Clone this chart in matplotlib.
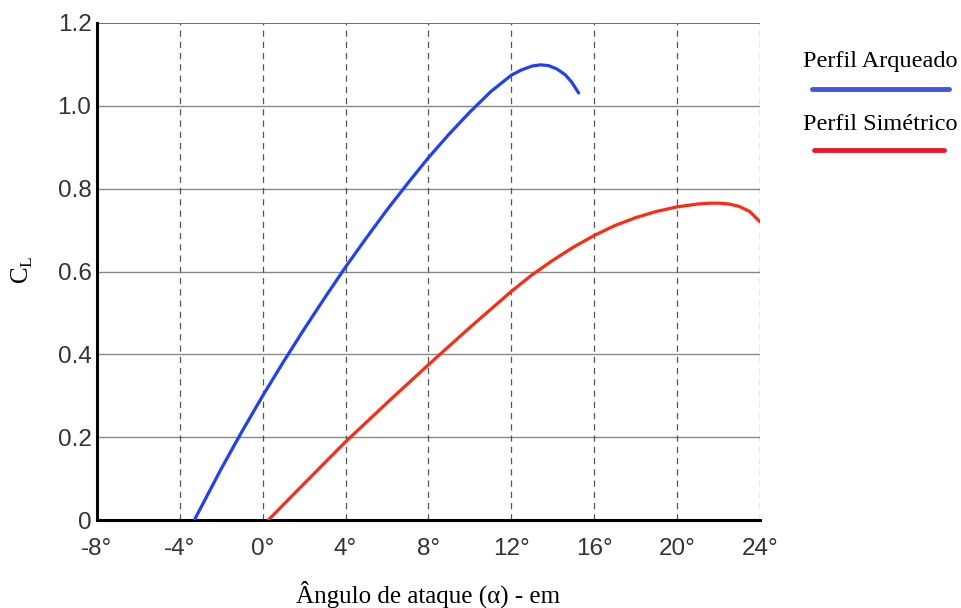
import matplotlib
matplotlib.use("Agg")
import matplotlib.pyplot as plt

# Data
alpha_arq = [-3.3, -2, -1, 0, 1, 2, 3, 4, 5, 6, 7, 8, 9, 10, 11, 12, 12.5, 13,
             13.4, 13.8, 14.2, 14.6, 14.9, 15.25]
cl_arq = [0.0, 0.124, 0.214, 0.300, 0.382, 0.461, 0.537, 0.611, 0.681, 0.749, 0.813, 0.875,
          0.932, 0.985, 1.034, 1.074, 1.087, 1.096, 1.099, 1.097, 1.089, 1.075, 1.058, 1.031]

alpha_sim = [0.27, 2, 4, 6, 8, 10, 12, 13, 14, 15, 16, 17, 18, 19, 20, 21, 21.6,
             22, 22.5, 23, 23.5, 24.0]
cl_sim = [0.0, 0.088, 0.189, 0.283, 0.375, 0.465, 0.552, 0.592, 0.627, 0.659, 0.687, 0.711,
          0.730, 0.745, 0.756, 0.763, 0.765, 0.765, 0.763, 0.757, 0.745, 0.72]

xticks = [-8, -4, 0, 4, 8, 12, 16, 20, 24]
xticklabels = ["-8°", "-4°", "0°", "4°", "8°", "12°", "16°", "20°", "24°"]
yticks = [0, 0.2, 0.4, 0.6, 0.8, 1.0, 1.2]
yticklabels = ["0", "0.2", "0.4", "0.6", "0.8", "1.0", "1.2"]
series_names = ["Perfil Arqueado", "Perfil Simétrico"]

fig = plt.figure(figsize=(9.62, 6.08), dpi=100)
ax = fig.add_axes([0.1008, 0.1447, 0.6892, 0.8175])

ax.set_xlim(-8, 24)
ax.set_ylim(0, 1.2)

# grid
for y in yticks[1:-1]:
    ax.axhline(y, color="#888888", lw=1.0, zorder=1)
ax.axhline(yticks[-1], color="#555555", lw=1.2, zorder=1)
for x in xticks[1:]:
    ax.axvline(x, color="#555555", lw=0.9, ls=(0, (5, 4)), zorder=1)

ax.plot(alpha_arq, cl_arq, color="#1f3fff", lw=2.3, solid_capstyle="round",
        solid_joinstyle="round", zorder=3)
ax.plot(alpha_sim, cl_sim, color="#ff2a12", lw=2.3, solid_capstyle="round",
        solid_joinstyle="round", zorder=3)

for s in ["top", "right"]:
    ax.spines[s].set_visible(False)
ax.spines["left"].set_linewidth(2.2)
ax.spines["bottom"].set_linewidth(2.2)

ax.set_xticks(xticks)
ax.set_xticklabels(xticklabels)
ax.set_yticks(yticks)
ax.set_yticklabels(yticklabels)
ax.tick_params(length=0, labelsize=17.5, labelcolor="#333333")
ax.tick_params(axis="y", pad=4)
ax.tick_params(axis="x", pad=13)
for lab in ax.get_xticklabels() + ax.get_yticklabels():
    lab.set_family("Liberation Sans")

ax.set_xlabel("Ângulo de ataque (α) - em", family="Liberation Serif", fontsize=18, labelpad=15)
fig.text(22 / 962, 1 - 270 / 608, r"C$_\mathregular{L}$", family="Liberation Serif",
         fontsize=18, rotation=90, ha="center", va="center")

# legend (outside, right)
fig.text(880 / 962, 1 - 62 / 608, series_names[0], family="Liberation Serif", fontsize=17.5,
         ha="center", va="center")
fig.text(880 / 962, 1 - 125 / 608, series_names[1], family="Liberation Serif", fontsize=17.5,
         ha="center", va="center")
fig.add_artist(plt.Line2D([812 / 962, 949 / 962], [1 - 89 / 608, 1 - 89 / 608],
                          color="#4455dd", lw=3.5, solid_capstyle="round"))
fig.add_artist(plt.Line2D([814 / 962, 944 / 962], [1 - 150 / 608, 1 - 150 / 608],
                          color="#e8192c", lw=3.5, solid_capstyle="round"))

fig.savefig("out.png", dpi=100)
